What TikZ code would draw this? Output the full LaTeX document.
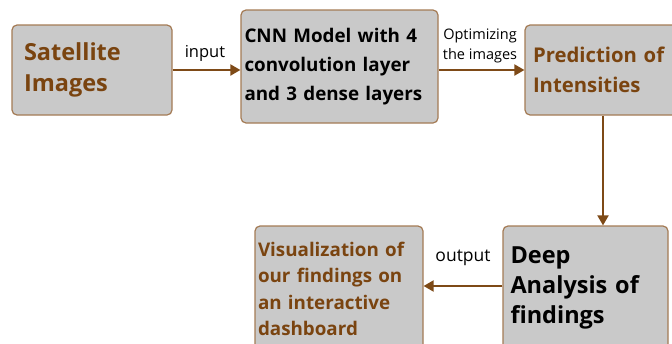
\documentclass[tikz,border=0pt]{standalone}
\usepackage{fontspec}
\setmainfont{Open Sans}
\usetikzlibrary{arrows.meta,calc}
\definecolor{boxfill}{HTML}{C9C9C9}
\definecolor{boxline}{HTML}{A47B55}
\definecolor{brownarrow}{HTML}{7E4A17}
\definecolor{browntext}{HTML}{7A4410}
\begin{document}
\begin{tikzpicture}[x=1pt,y=-1pt,
  box/.style={draw=boxline, line width=1.2pt, fill=boxfill, rounded corners=5pt, align=left, inner sep=0pt},
  flow/.style={draw=brownarrow, line width=2pt, -{Triangle[length=10pt,width=11pt]}},
  lbl/.style={text=black, inner sep=0pt}]
\useasboundingbox (0,0) rectangle (672,343);
\clip (0,0) rectangle (672,343);
\node[box, minimum width=160pt, minimum height=90pt, text width=136pt, text=browntext,
  font=\bfseries\fontsize{23.5}{31}\selectfont] (sat) at (92,70) {Satellite\\Images};
\node[box, minimum width=197pt, minimum height=113pt, text width=190pt, text=black,
  font=\bfseries\fontsize{18.8}{29}\selectfont] (cnn) at (339.5,66.5) {CNN Model with 4\\convolution layer\\and 3 dense layers};
\node[box, minimum width=156pt, minimum height=90pt, text width=140pt, text=browntext,
  font=\bfseries\fontsize{20.3}{30}\selectfont] (pred) at (603,70) {Prediction of\\Intensities};
\node[box, minimum width=165pt, minimum height=124pt, text width=150pt, text=black,
  font=\bfseries\fontsize{23.5}{30}\selectfont] (deep) at (585.5,288) {Deep\\Analysis of\\findings};
\node[box, minimum width=168pt, minimum height=126pt, text width=162pt, text=browntext,
  font=\bfseries\fontsize{18.8}{26.5}\selectfont] (vis) at (339,289) {Visualization of\\our findings on\\an interactive\\dashboard};
\draw[flow] (sat.east) -- (cnn.west |- sat.east);
\draw[flow] (cnn.east |- pred.west) -- (pred.west);
\draw[flow] (pred.south) -- (pred.south |- deep.north);
\draw[flow] (deep.west |- 0,286) -- (vis.east |- 0,286);
\node[lbl, anchor=south, font=\fontsize{16.5}{20}\selectfont] (inlbl) at (205,62) {input};
\node[lbl, anchor=south, align=center, font=\fontsize{14.5}{20}\selectfont] (optlbl) at (480,63) {Optimizing\\the images};
\node[lbl, anchor=south, font=\fontsize{17.5}{20}\selectfont] (outlbl) at (463,266) {output};
\end{tikzpicture}
\end{document}
